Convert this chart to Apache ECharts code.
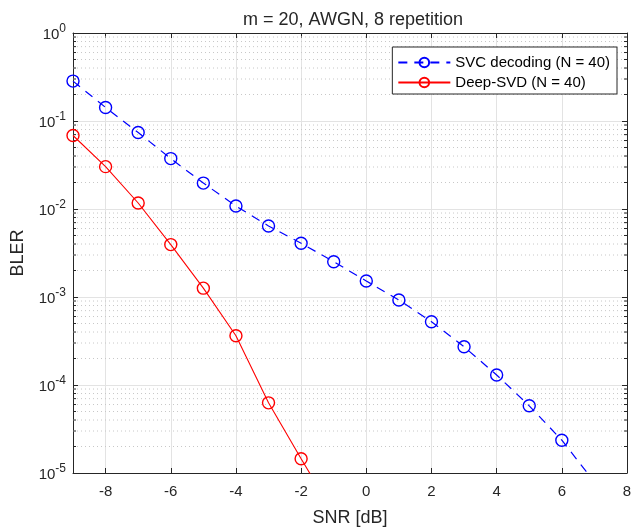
<!DOCTYPE html>
<html>
<head>
<meta charset="utf-8">
<script src="https://cdn.jsdelivr.net/npm/echarts@6/dist/echarts.min.js"></script>
<style>
html,body{margin:0;padding:0;background:#fff;}
#chart{width:637px;height:532px;}
</style>
</head>
<body>
<div id="chart"></div>
<script>
// ---- data ----
const titleText = 'm = 20, AWGN, 8 repetition';
const xName = 'SNR [dB]';
const yName = 'BLER';
const svcName = 'SVC decoding (N = 40)';
const deepName = 'Deep-SVD (N = 40)';
const svcSNR = [-9, -8, -7, -6, -5, -4, -3, -2, -1, 0, 1, 2, 3, 4, 5, 6, 7];
const svcBLER = [0.284, 0.1425, 0.074, 0.0374, 0.0197, 0.0108, 0.00642, 0.00408, 0.00252, 0.00152, 0.000924, 0.000524, 0.000272, 0.00013, 5.8e-5, 2.36e-5, 7.9e-6];
const deepSNR = [-9, -8, -7, -6, -5, -4, -3, -2, -1];
const deepBLER = [0.0684, 0.0303, 0.0117, 0.00394, 0.00126, 0.000363, 6.27e-5, 1.45e-5, 3.5e-6];
const xTicks = [-8, -6, -4, -2, 0, 2, 4, 6, 8];
const xMin = -9, xMax = 8;
const yMin = 1e-5, yMax = 1;
const yDecades = [-5, -4, -3, -2, -1];
const yMinorMultipliers = [2, 3, 4, 5, 6, 7, 8, 9];

// minor gridline values (axis structure)
const minorVals = [];
yDecades.forEach(function (e) {
  yMinorMultipliers.forEach(function (m) { minorVals.push(m * Math.pow(10, e)); });
});

const TXT = '#262626';
const FONT = '"Liberation Sans", Arial, Helvetica, sans-serif';

const chart = echarts.init(document.getElementById('chart'), null, {renderer: 'canvas'});

function pair(xs, ys) { return xs.map(function (x, i) { return [x, ys[i]]; }); }

const option = {
  backgroundColor: '#fff',
  animation: false,
  textStyle: {fontFamily: FONT, color: TXT},
  title: {
    text: titleText,
    left: 348,
    top: 6,
    textAlign: 'center',
    textStyle: {fontSize: 18, fontWeight: 'normal', color: TXT, fontFamily: FONT}
  },
  grid: {left: 73, right: 10, top: 33, bottom: 59, containLabel: false},
  legend: {
    right: 20,
    top: 47,
    orient: 'vertical',
    align: 'left',
    itemWidth: 52,
    itemHeight: 12,
    itemGap: 5,
    padding: [8, 7, 4, 5],
    backgroundColor: '#fff',
    borderColor: TXT,
    borderWidth: 1,
    textStyle: {fontSize: 15, color: '#000', fontFamily: FONT},
    data: [svcName, deepName]
  },
  xAxis: [{
    type: 'value', min: xMin, max: xMax, position: 'bottom',
    name: xName, nameLocation: 'middle', nameGap: 36,
    nameTextStyle: {fontSize: 18, color: TXT, fontFamily: FONT},
    axisLine: {show: true, onZero: false, lineStyle: {color: TXT, width: 1}},
    axisTick: {show: true, inside: true, length: 5, customValues: xTicks, lineStyle: {color: TXT}},
    axisLabel: {show: true, customValues: xTicks, fontSize: 15, color: TXT, margin: 11, fontFamily: FONT},
    splitLine: {show: true, lineStyle: {color: '#e3e3e3', width: 1}}
  }, {
    type: 'value', min: xMin, max: xMax, position: 'top',
    axisLine: {show: true, onZero: false, lineStyle: {color: TXT, width: 1}},
    axisTick: {show: true, inside: true, length: 5, customValues: xTicks, lineStyle: {color: TXT}},
    axisLabel: {show: false},
    splitLine: {show: false}
  }],
  yAxis: [{
    type: 'log', logBase: 10, min: yMin, max: yMax, position: 'left',
    name: yName, nameLocation: 'middle', nameGap: 46,
    nameTextStyle: {fontSize: 18, color: TXT, fontFamily: FONT},
    axisLine: {show: true, onZero: false, lineStyle: {color: TXT, width: 1}},
    axisTick: {show: true, inside: true, length: 5, lineStyle: {color: TXT}},
    axisLabel: {
      show: true, margin: 7, color: TXT,
      formatter: function (v) {
        const e = Math.round(Math.log10(v));
        return '{b|10}{s|' + e + '}';
      },
      rich: {
        b: {fontSize: 15, color: TXT, fontFamily: FONT, padding: [4, 0, 0, 0]},
        s: {fontSize: 12, color: TXT, fontFamily: FONT, padding: [0, 0, 8, 0]}
      }
    },
    splitLine: {show: true, lineStyle: {color: '#e3e3e3', width: 1}}
  }, {
    type: 'log', logBase: 10, min: yMin, max: yMax, position: 'right',
    axisLine: {show: true, onZero: false, lineStyle: {color: TXT, width: 1}},
    axisTick: {show: true, inside: true, length: 5, lineStyle: {color: TXT}},
    axisLabel: {show: false},
    splitLine: {show: false}
  }],
  series: [{
    type: 'custom',
    name: 'minorGrid',
    xAxisIndex: 0, yAxisIndex: 0,
    silent: true,
    z: 1,
    legendHoverLink: false,
    data: minorVals.map(function (v) { return [xMin, v]; }),
    renderItem: function (params, api) {
      const v = api.value(1);
      const p1 = api.coord([xMin, v]);
      const p2 = api.coord([xMax, v]);
      return {
        type: 'group',
        children: [{
          type: 'line',
          shape: {x1: p1[0], y1: p1[1], x2: p2[0], y2: p2[1]},
          style: {stroke: '#c8c8c8', lineWidth: 1, lineDash: [1, 3]}
        }, {
          type: 'line',
          shape: {x1: p1[0], y1: p1[1], x2: p1[0] + 3, y2: p1[1]},
          style: {stroke: TXT, lineWidth: 1}
        }, {
          type: 'line',
          shape: {x1: p2[0] - 3, y1: p2[1], x2: p2[0], y2: p2[1]},
          style: {stroke: TXT, lineWidth: 1}
        }]
      };
    }
  }, {
    type: 'line',
    name: svcName,
    xAxisIndex: 0, yAxisIndex: 0,
    data: pair(svcSNR, svcBLER),
    symbol: 'circle',
    symbolSize: 12,
    showAllSymbol: true,
    clip: true,
    color: '#0000ff',
    lineStyle: {color: '#0000ff', width: 1.2, type: [9, 7]},
    itemStyle: {color: 'rgba(255,255,255,0)', borderColor: '#0000ff', borderWidth: 1.4},
    z: 5
  }, {
    type: 'line',
    name: deepName,
    xAxisIndex: 0, yAxisIndex: 0,
    data: pair(deepSNR, deepBLER),
    symbol: 'circle',
    symbolSize: 12,
    showAllSymbol: true,
    clip: true,
    color: '#ff0000',
    lineStyle: {color: '#ff0000', width: 1.1},
    itemStyle: {color: 'rgba(255,255,255,0)', borderColor: '#ff0000', borderWidth: 1.4},
    z: 5
  }]
};
chart.setOption(option);
</script>
</body>
</html>
